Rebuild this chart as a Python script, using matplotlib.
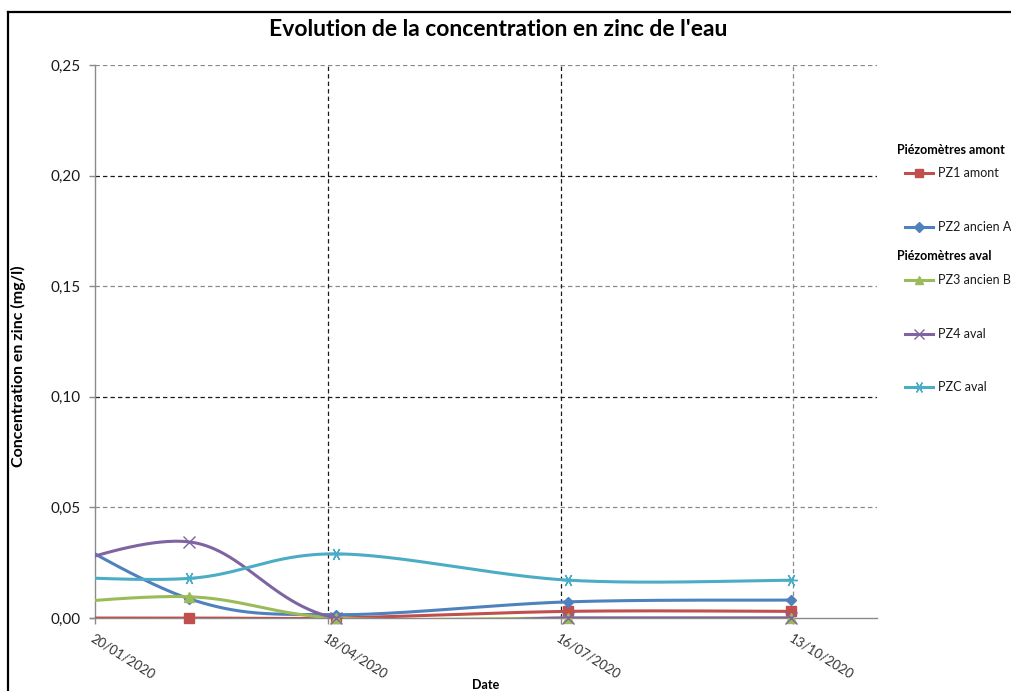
import numpy as np
import matplotlib
matplotlib.use("Agg")
import matplotlib.pyplot as plt
import matplotlib.dates as mdates
from matplotlib.lines import Line2D
import datetime as dt

plt.rcParams['font.family'] = ['Lato', 'DejaVu Sans']

# ---------------- data ----------------
dates = ['2019-12-21', '2020-02-25', '2020-04-21', '2020-07-19', '2020-10-12']
pz1_amont = [0.0, 0.0, 0.0, 0.003, 0.003]
pz2_ancienA = [0.049, 0.0087, 0.0015, 0.0073, 0.0081]
pz3_ancienB = [0.005, 0.0096, 0.0, 0.0, 0.0]
pz4_aval = [0.017, 0.0344, 0.0, 0.0, 0.0]
pzc_aval = [0.0195, 0.0179, 0.029, 0.0171, 0.0171]
series_names = ['PZ1 amont', 'PZ2 ancien A', 'PZ3 ancien B', 'PZ4 aval', 'PZC aval']
group_titles = ['Piézomètres amont', 'Piézomètres aval']
xtick_dates = ['2020-01-20', '2020-04-18', '2020-07-16', '2020-10-13']
xtick_labels = ['20/01/2020', '18/04/2020', '16/07/2020', '13/10/2020']
x_min, x_max = '2020-01-20', '2020-11-14'
y_ticks = [0.0, 0.05, 0.10, 0.15, 0.20, 0.25]

colors = ['#C0504D', '#4F81BD', '#9BBB59', '#8064A2', '#4BACC6']
markers = ['s', 'D', '^', 'x', (6, 2, 90)]
msizes = [6.5, 5.5, 7, 8, 9]


def smooth(x, y, n=80):
    P = np.column_stack([x, y]).astype(float)
    out = []
    for i in range(len(P) - 1):
        p0 = P[i - 1] if i > 0 else P[i]
        p1, p2 = P[i], P[i + 1]
        p3 = P[i + 2] if i + 2 < len(P) else P[i + 1]
        c1 = p1 + (p2 - p0) / 6.0
        c2 = p2 - (p3 - p1) / 6.0
        t = np.linspace(0, 1, n)[:, None]
        seg = (1 - t) ** 3 * p1 + 3 * (1 - t) ** 2 * t * c1 + 3 * (1 - t) * t ** 2 * c2 + t ** 3 * p2
        out.append(seg)
    S = np.vstack(out)
    return S[:, 0], S[:, 1]


def d2n(s):
    return mdates.date2num(dt.datetime.strptime(s, '%Y-%m-%d'))


W, H = 1012, 691
fig = plt.figure(figsize=(W / 100, H / 100), dpi=100)
ax = fig.add_axes([95 / W, 1 - 618 / H, (877 - 95) / W, (618 - 65) / H])

xd = np.array([d2n(s) for s in dates])
all_series = [pz1_amont, pz2_ancienA, pz3_ancienB, pz4_aval, pzc_aval]

ax.set_xlim(d2n(x_min), d2n(x_max))
ax.set_ylim(0, 0.25)

# grid lines
grid_dark = '#1a1a1a'
grid_light = '#8a8a8a'
for i, v in enumerate(y_ticks[1:]):
    c = grid_light if i % 2 == 0 else grid_dark
    ax.axhline(v, color=c, lw=0.9, ls=(0, (3.5, 2.5)), zorder=1)
xt = [d2n(s) for s in xtick_dates]
for i, v in enumerate(xt[1:]):
    c = grid_dark if i < 2 else grid_light
    ax.axvline(v, color=c, lw=0.9, ls=(0, (3.5, 2.5)), zorder=1)

for k, (vals, col, mk, ms) in enumerate(zip(all_series, colors, markers, msizes)):
    sx, sy = smooth(xd, vals)
    ax.plot(sx, sy, color=col, lw=2.2, zorder=3 + k, solid_capstyle='round')
    vis = xd >= d2n(x_min)
    if mk == 'x' or isinstance(mk, tuple):
        ax.plot(xd[vis], np.array(vals)[vis], ls='none', marker=mk, ms=ms,
                mec=col, mew=1.0, zorder=3 + k, clip_on=False)
    else:
        ax.plot(xd[vis], np.array(vals)[vis], ls='none', marker=mk, ms=ms,
                mfc=col, mec=col, zorder=3 + k, clip_on=False)

# axes styling
for s in ['top', 'right']:
    ax.spines[s].set_visible(False)
ax.spines['left'].set_color('#8a8a8a')
ax.spines['bottom'].set_color('#8a8a8a')
ax.spines['left'].set_linewidth(1.0)
ax.spines['bottom'].set_linewidth(1.0)
ax.spines['bottom'].set_bounds(d2n(x_min) - 2, d2n(x_max))

ax.set_yticks(y_ticks)
ax.set_yticklabels([f'{v:.2f}'.replace('.', ',') for v in y_ticks], fontsize=11, color='#1a1a1a')
ax.set_xticks(xt)
ax.set_xticklabels(xtick_labels, fontsize=9.5, color='#333333', rotation=-32,
                   ha='left', va='top', rotation_mode='anchor')
ax.tick_params(axis='both', direction='out', length=4, color='#8a8a8a', width=1.0)
ax.tick_params(axis='y', pad=6)
ax.tick_params(axis='x', pad=6)

fig.text(18 / W, 1 - 366 / H, 'Concentration en zinc (mg/l)', rotation=90, fontsize=11.5,
         fontweight='bold', ha='center', va='center')
fig.text(486 / W, 1 - 685 / H, 'Date', fontsize=9, fontweight='bold', ha='center', va='center')
fig.text(498 / W, 1 - 30 / H, "Evolution de la concentration en zinc de l'eau", fontsize=16.5,
         fontweight='bold', ha='center', va='center')

# outer frame
fig.add_artist(Line2D([8 / W, 8 / W], [0, 1 - 12 / H], transform=fig.transFigure, color='black', lw=1.6))
fig.add_artist(Line2D([8 / W, 1], [1 - 12 / H, 1 - 12 / H], transform=fig.transFigure, color='black', lw=1.6))

# legend (manual)
leg_y = [173, 227, 280, 334, 387]
fig.text(897 / W, 1 - 150 / H, group_titles[0], fontsize=9, fontweight='bold', ha='left', va='center')
fig.text(897 / W, 1 - 256 / H, group_titles[1], fontsize=9, fontweight='bold', ha='left', va='center')
for name, col, mk, ms, yy in zip(series_names, colors, markers, msizes, leg_y):
    yf = 1 - yy / H
    fig.add_artist(Line2D([905 / W, 933 / W], [yf, yf], transform=fig.transFigure, color=col, lw=2.2))
    if mk == 'x' or isinstance(mk, tuple):
        fig.add_artist(Line2D([919 / W], [yf], transform=fig.transFigure, ls='none', marker=mk,
                              ms=ms * 0.9, mec=col, mew=1.0))
    else:
        fig.add_artist(Line2D([919 / W], [yf], transform=fig.transFigure, ls='none', marker=mk,
                              ms=ms * 0.85, mfc=col, mec=col))
    fig.text(938 / W, yf, name, fontsize=9, ha='left', va='center', color='#1a1a1a')

fig.savefig('out.png', dpi=100)
